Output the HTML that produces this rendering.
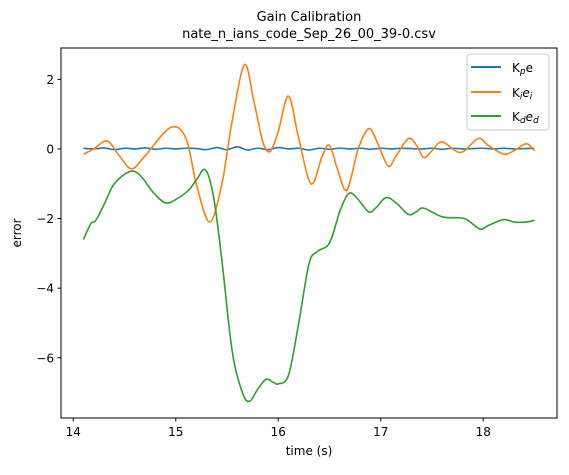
<!DOCTYPE html>
<html><head><meta charset="utf-8"><style>
body{margin:0;background:#fff;font-family:"Liberation Sans","DejaVu Sans",sans-serif}
svg text{font-family:"DejaVu Sans","Liberation Sans",sans-serif;}
</style></head><body>
<svg id="chart" width="569" height="470" xmlns="http://www.w3.org/2000/svg">
<text x="309" y="21" font-size="13" text-anchor="middle">Gain Calibration</text>
<text x="309" y="38" font-size="13" text-anchor="middle">nate_n_ians_code_Sep_26_00_39-0.csv</text>
<g id="plot"></g>
<rect x="61" y="48" width="496" height="370" fill="none" stroke="#000" stroke-width="1"/>
<text x="309" y="455" font-size="12" text-anchor="middle">time (s)</text>
<text transform="translate(21,233) rotate(-90)" font-size="12" text-anchor="middle">error</text>
<g>
<rect x="467" y="54" width="82" height="76" rx="3" fill="#fff" fill-opacity="0.8" stroke="#ccc"/>
<line x1="471" y1="67" x2="501" y2="67" stroke="#1f77b4" stroke-width="2"/>
<text x="512" y="72" font-size="12">K<tspan font-size="9" font-style="italic" dy="2">p</tspan><tspan dy="-2">e</tspan></text>
<line x1="471" y1="92" x2="501" y2="92" stroke="#ff7f0e" stroke-width="2"/>
<text x="512" y="97" font-size="12">K<tspan font-size="9" font-style="italic" dy="2">i</tspan><tspan dy="-2" font-style="italic">e</tspan><tspan font-size="9" font-style="italic" dy="2">i</tspan></text>
<line x1="471" y1="116" x2="501" y2="116" stroke="#2ca02c" stroke-width="2"/>
<text x="512" y="121" font-size="12">K<tspan font-size="9" font-style="italic" dy="2">d</tspan><tspan dy="-2" font-style="italic">e</tspan><tspan font-size="9" font-style="italic" dy="2">d</tspan></text>
</g>
</svg>
<script>
const xTicks=[14,15,16,17,18];
const yTicks=[2,0,-2,-4,-6];
const yTickLabels=["2","0","\u22122","\u22124","\u22126"];
const kiT=[14.1,14.2,14.33,14.45,14.57,14.7,14.95,15.1,15.2,15.33,15.45,15.55,15.67,15.76,15.85,15.92,16.0,16.1,16.2,16.32,16.43,16.5,16.58,16.67,16.78,16.88,16.95,17.07,17.15,17.27,17.35,17.42,17.5,17.6,17.78,17.95,18.05,18.2,18.3,18.42,18.5];
const kiV=[-0.15,0.0,0.23,-0.2,-0.57,-0.2,0.62,0.3,-1.0,-2.1,-1.0,0.8,2.42,1.4,0.2,-0.07,0.5,1.52,0.3,-1.0,-0.2,0.1,-0.6,-1.18,0.0,0.58,0.3,-0.48,-0.2,0.3,0.1,-0.25,-0.05,0.2,-0.1,0.3,0.1,-0.15,-0.05,0.15,-0.05];
const kdT=[14.1,14.17,14.22,14.3,14.4,14.55,14.65,14.78,14.9,15.0,15.12,15.2,15.29,15.37,15.45,15.55,15.65,15.72,15.8,15.88,15.95,16.0,16.1,16.2,16.3,16.38,16.5,16.6,16.68,16.75,16.88,16.95,17.05,17.15,17.27,17.35,17.42,17.6,17.78,17.85,17.97,18.05,18.2,18.3,18.42,18.5];
const kdV=[-2.6,-2.15,-2.05,-1.6,-1.0,-0.65,-0.75,-1.25,-1.55,-1.45,-1.2,-0.9,-0.6,-1.4,-3.2,-5.8,-7.0,-7.25,-6.9,-6.62,-6.7,-6.75,-6.5,-5.0,-3.3,-2.95,-2.7,-1.8,-1.3,-1.35,-1.8,-1.7,-1.4,-1.55,-1.88,-1.8,-1.7,-1.95,-1.98,-2.05,-2.3,-2.2,-2.03,-2.1,-2.1,-2.05];
const kpT=[14.1,14.2,14.3,14.4,14.5,14.6,14.7,14.8,14.9,15.0,15.1,15.2,15.3,15.4,15.5,15.6,15.7,15.8,15.9,16.0,16.1,16.2,16.3,16.4,16.5,16.6,16.7,16.8,16.9,17.0,17.1,17.2,17.3,17.4,17.5,17.6,17.7,17.8,17.9,18.0,18.1,18.2,18.3,18.4,18.5];
const kpV=[0.02,0.0,0.03,-0.02,0.02,0.0,0.03,-0.01,0.02,0.0,0.02,0.01,-0.02,0.04,-0.02,0.06,-0.03,0.02,-0.02,0.04,0.0,0.02,-0.03,0.02,-0.01,0.02,0.0,0.02,-0.01,0.02,0.0,0.02,0.01,0.0,0.02,-0.01,0.02,0.0,0.01,0.02,0.0,0.02,0.0,0.01,0.02];
const X0=13.88,X1=18.72,Y0=-7.73,Y1=2.9;
function sx(v){return 61+(v-X0)/(X1-X0)*496;}
function sy(v){return 418-(v-Y0)/(Y1-Y0)*370;}
const NS="http://www.w3.org/2000/svg";
const svg=document.getElementById('chart');
const plot=document.getElementById('plot');
xTicks.forEach(t=>{
 const l=document.createElementNS(NS,'line');
 l.setAttribute('x1',sx(t));l.setAttribute('x2',sx(t));l.setAttribute('y1',418);l.setAttribute('y2',421.5);l.setAttribute('stroke','#000');
 
 
 svg.appendChild(l);
 const tx=document.createElementNS(NS,'text');
 tx.setAttribute('x',sx(t));tx.setAttribute('y',436);tx.setAttribute('font-size','12');tx.setAttribute('text-anchor','middle');tx.textContent=t;
 
 
 svg.appendChild(tx);
});
yTicks.forEach((t,i)=>{
 const l=document.createElementNS(NS,'line');
 l.setAttribute('x1',57.5);l.setAttribute('x2',61);l.setAttribute('y1',sy(t));l.setAttribute('y2',sy(t));l.setAttribute('stroke','#000');
 
 
 svg.appendChild(l);
 const tx=document.createElementNS(NS,'text');
 tx.setAttribute('x',54);tx.setAttribute('y',sy(t)+4.5);tx.setAttribute('font-size','12');tx.setAttribute('text-anchor','end');tx.textContent=yTickLabels[i];
 
 
 svg.appendChild(tx);
});
function path(T,V){
 const p=T.map((t,i)=>[sx(t),sy(V[i])]);
 let d='M'+p[0][0]+','+p[0][1];
 for(let i=0;i<p.length-1;i++){
  const a=p[Math.max(0,i-1)],b=p[i],c=p[i+1],e=p[Math.min(p.length-1,i+2)];
  const c1=[b[0]+(c[0]-a[0])/6,b[1]+(c[1]-a[1])/6],c2=[c[0]-(e[0]-b[0])/6,c[1]-(e[1]-b[1])/6];
  d+=' C'+c1+' '+c2+' '+c;
 }
 return d;
}
[[kpT,kpV,'#1f77b4','series-kp'],[kiT,kiV,'#ff7f0e','series-ki'],[kdT,kdV,'#2ca02c','series-kd']].forEach(s=>{
 const p=document.createElementNS(NS,'path');
 p.setAttribute('d',path(s[0],s[1]));p.setAttribute('fill','none');p.setAttribute('stroke',s[2]);p.setAttribute('stroke-width','1.6');
 
 
 plot.appendChild(p);
});
</script>
</body></html>
